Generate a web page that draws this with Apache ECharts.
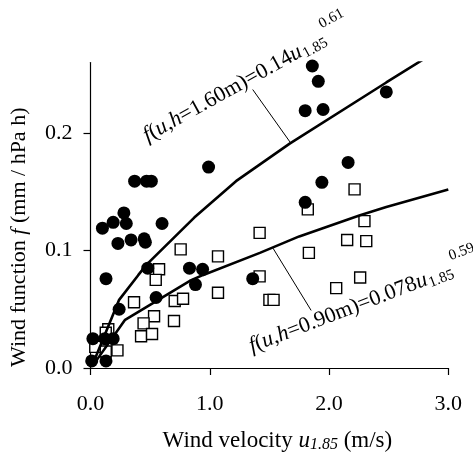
<!DOCTYPE html>
<html><head><meta charset="utf-8">
<script src="https://cdn.jsdelivr.net/npm/echarts@6/dist/echarts.min.js"></script>
<style>html,body{margin:0;padding:0;background:#fff}#c{width:473px;height:456px}</style>
</head><body><div id="c"></div>
<script>
// ---- data ----
const xTicks = [0, 1, 2, 3];
const yTicks = [0, 0.1, 0.2];

// h = 1.60 m (filled circles)
const circleU = [0.02,0.12,0.19,0.01,0.13,0.13,0.24,0.55,0.48,0.83,0.94,0.88,1.36,0.99,0.37,0.47,0.51,0.10,0.19,0.28,0.30,0.23,0.34,0.45,0.46,0.60,1.86,1.91,1.80,1.95,2.48,2.16,1.94,1.80];
const circleF = [0.025,0.025,0.025,0.006,0.006,0.076,0.050,0.060,0.085,0.085,0.084,0.071,0.076,0.171,0.159,0.159,0.159,0.119,0.124,0.132,0.123,0.106,0.109,0.110,0.107,0.123,0.257,0.244,0.219,0.220,0.235,0.175,0.158,0.141];

// h = 0.90 m (open squares)
const squareU = [0.756,0.575,0.547,0.365,0.706,0.776,1.069,1.069,1.418,1.418,1.50,1.535,0.533,0.445,0.700,0.424,0.516,0.149,0.128,0.226,0.04,0.128,2.214,1.822,2.297,2.152,2.312,1.831,2.261,2.06];
const squareF = [0.101,0.084,0.075,0.056,0.057,0.059,0.095,0.064,0.115,0.078,0.058,0.058,0.044,0.038,0.040,0.027,0.029,0.033,0.030,0.015,0.018,0.014,0.152,0.135,0.125,0.109,0.108,0.098,0.077,0.068];

// fitted curves
const upperCurveU = [0.03,0.24,0.40,0.47,0.87,1.22,1.67,2.48,2.78,3.0];
const upperCurveF = [0.006,0.058,0.079,0.088,0.128,0.159,0.191,0.243,0.262,0.271];
const lowerCurveU = [0.04,0.29,0.52,0.83,0.94,1.42,1.75,2.26,2.48,3.0];
const lowerCurveF = [0.005,0.041,0.055,0.074,0.079,0.098,0.112,0.130,0.137,0.152];

// leader lines from labels to curves
const upperLeaderU = [1.36,1.675];
const upperLeaderF = [0.237,0.192];
const lowerLeaderU = [1.53,1.85];
const lowerLeaderF = [0.102,0.049];

// ---- build ----
const zip = (a,b) => a.map((v,i)=>[v,b[i]]);
const FONT = '"Liberation Serif", "Times New Roman", Times, serif';
const chart = echarts.init(document.getElementById('c'), null, {renderer:'canvas'});

const axisCommon = {
  axisLine:{show:true, lineStyle:{color:'#000', width:1.2}},
  axisTick:{show:true, length:7, lineStyle:{color:'#000', width:1.2}},
  splitLine:{show:false},
};

chart.setOption({
  animation:false,
  backgroundColor:'#fff',
  grid:{left:90.5, right:24.7, top:62.5, bottom:88, outerBoundsMode:'none', containLabel:false},
  xAxis:Object.assign({}, axisCommon, {
    type:'value', min:0, max:3, interval:1,
    axisTick:Object.assign({}, axisCommon.axisTick, {customValues:xTicks}),
    axisLabel:{customValues:xTicks, formatter:v=>v.toFixed(1), margin:25, color:'#000', fontFamily:FONT, fontSize:22},
    name:'{n|Wind velocity }{i|u}{s|1.85}{n| (m/s)}',
    nameLocation:'middle', nameGap:61,
    nameTextStyle:{color:'#000', fontFamily:FONT, fontSize:23, padding:[0,0,0,16],
      rich:{n:{fontFamily:FONT,fontSize:23,color:'#000',lineHeight:24},
            i:{fontFamily:FONT,fontSize:23,fontStyle:'italic',color:'#000',lineHeight:24},
            s:{fontFamily:FONT,fontSize:16,fontStyle:'italic',color:'#000',lineHeight:15,verticalAlign:'bottom'}}}
  }),
  yAxis:Object.assign({}, axisCommon, {
    type:'value', min:0, max:0.26, interval:0.1,
    axisTick:Object.assign({}, axisCommon.axisTick, {customValues:yTicks}),
    axisLabel:{customValues:yTicks, formatter:v=>v.toFixed(1), margin:18, color:'#000', fontFamily:FONT, fontSize:22},
    name:'{n|Wind function }{i|f}{n| (mm / hPa h)}',
    nameLocation:'middle', nameGap:60,
    nameTextStyle:{color:'#000', fontFamily:FONT, fontSize:22, padding:[0,44,0,0],
      rich:{n:{fontFamily:FONT,fontSize:22,color:'#000'},
            i:{fontFamily:FONT,fontSize:22,fontStyle:'italic',color:'#000'}}}
  }),
  series:[
    {type:'scatter', data:zip(squareU,squareF), symbol:'rect', symbolSize:11,
     itemStyle:{color:'#fff', borderColor:'#000', borderWidth:1.4, opacity:1}, z:2, silent:true},
    {type:'scatter', data:zip(circleU,circleF), symbol:'circle', symbolSize:13,
     itemStyle:{color:'#000', opacity:1}, z:3, silent:true},
    {type:'line', data:zip(upperCurveU,upperCurveF), showSymbol:false, lineStyle:{color:'#000', width:2.6}, z:4, silent:true},
    {type:'line', data:zip(lowerCurveU,lowerCurveF), showSymbol:false, lineStyle:{color:'#000', width:2.6}, z:4, silent:true},
    {type:'line', data:zip(upperLeaderU,upperLeaderF), showSymbol:false, lineStyle:{color:'#000', width:1}, z:4, silent:true},
    {type:'line', data:zip(lowerLeaderU,lowerLeaderF), showSymbol:false, lineStyle:{color:'#000', width:1}, z:4, silent:true}
  ]
});

// equation labels
const cv = document.createElement('canvas').getContext('2d');
function tw(font, s){ cv.font = font; return cv.measureText(s).width; }
function eqLabel(anchor, angleDeg, parts, sub, sup){
  const p = chart.convertToPixel({gridIndex:0}, anchor);
  let rich = '', W = 0;
  parts.forEach(([t,it])=>{
    rich += '{' + (it?'i':'n') + '|' + t + '}';
    W += tw((it?'italic ':'') + '22px ' + FONT, t);
  });
  const subW = tw('15px ' + FONT, sub);
  return {
    type:'group', x:p[0], y:p[1], rotation:angleDeg*Math.PI/180, silent:true,
    children:[
      {type:'text', x:0, y:0, style:{text:rich, align:'left', verticalAlign:'middle', fill:'#000',
        fontFamily:FONT, fontSize:22,
        rich:{n:{fontFamily:FONT,fontSize:22,fill:'#000'}, i:{fontFamily:FONT,fontSize:22,fontStyle:'italic',fill:'#000'}}}},
      {type:'text', x:W+1, y:5, style:{text:sub, align:'left', verticalAlign:'middle', fill:'#000', fontFamily:FONT, fontSize:15}},
      {type:'text', x:W+subW+3, y:-13, style:{text:sup, align:'left', verticalAlign:'middle', fill:'#000', fontFamily:FONT, fontSize:15}}
    ]
  };
}
const upperAnchor = [0.455, 0.1966];
const lowerAnchor = [1.337, 0.0179];
chart.setOption({graphic:[
  eqLabel(upperAnchor, 29, [['f',1],['(',0],['u',1],[',',0],['h',1],['=1.60m)=0.14',0],['u',1]], '1.85', '0.61'),
  eqLabel(lowerAnchor, 21, [['f',1],['(',0],['u',1],[',',0],['h',1],['=0.90m)=0.078',0],['u',1]], '1.85', '0.59')
]});
</script>
</body></html>
